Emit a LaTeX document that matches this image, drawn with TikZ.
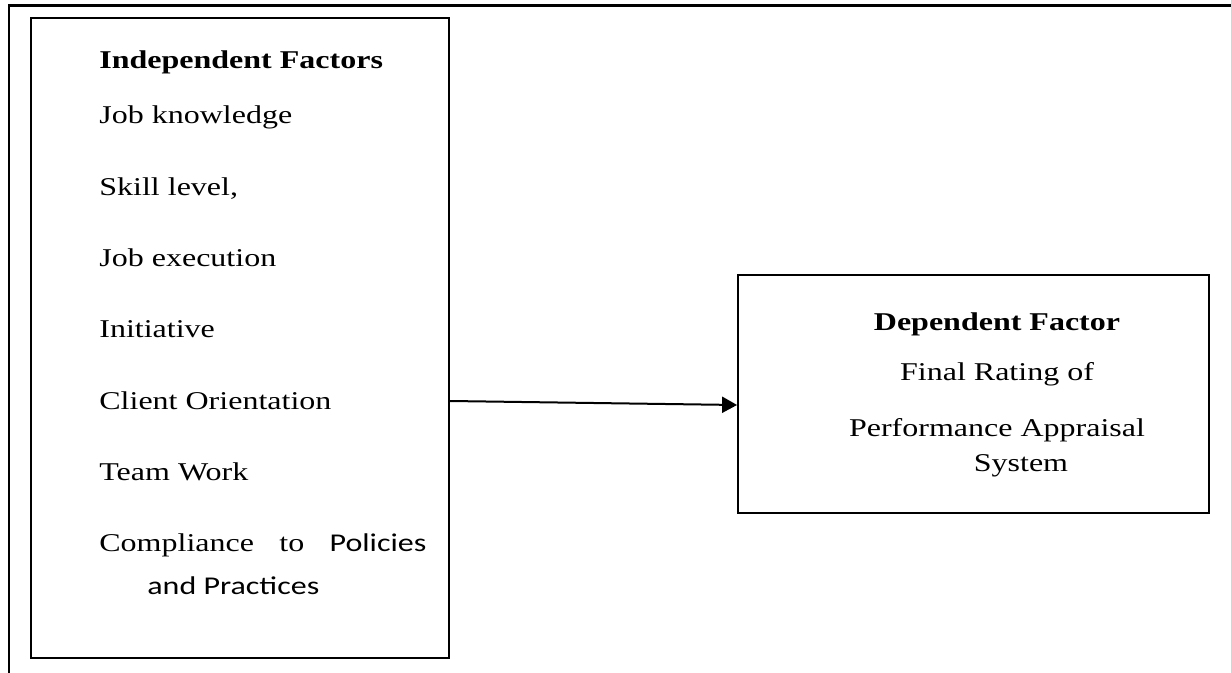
\documentclass[tikz,border=0pt]{standalone}
\usepackage{fontspec}
\setmainfont{Liberation Serif}[FakeStretch=1.25]
\newfontfamily\calfont{Carlito}[FakeStretch=1.25]
\usetikzlibrary{arrows.meta,positioning}

\begin{document}
\begin{tikzpicture}[x=0.5pt,y=-0.5pt,
    font=\fontsize{12.8pt}{15pt}\selectfont,
    factorbox/.style={draw,line width=0.9pt,inner sep=0pt},
    item/.style={inner sep=0pt,text height=9pt,text depth=3pt}]
  \useasboundingbox (0,0) rectangle (1231,673);
  % frame
  \draw[line width=1.5pt] (1231,6) -- (8,6);
  \draw[line width=1pt] (9,6) -- (9,673);
  % boxes
  \node[factorbox,minimum width=209pt,minimum height=320pt] (indep) at (240,338) {};
  \node[factorbox,minimum width=235.5pt,minimum height=119pt] (dep) at (973.5,394) {};
  % independent factors
  \node[item,anchor=base west] (ihead) at (99,69) {\textbf{Independent Factors}};
  \node[item,below right=15pt and 0pt of ihead.south west] (jk) {Job knowledge};
  \node[item,below right=23.25pt and 0pt of jk.south west] (sl) {Skill level,};
  \node[item,below right=23.25pt and 0pt of sl.south west] (je) {Job execution};
  \node[item,below right=23.25pt and 0pt of je.south west] (ini) {Initiative};
  \node[item,below right=23.25pt and 0pt of ini.south west] (co) {Client Orientation};
  \node[item,below right=23.25pt and 0pt of co.south west] (tw) {Team Work};
  \node[item,below right=23.25pt and 0pt of tw.south west] (comp)
    {\makebox[163.5pt]{Compliance\hfill to\hfill{\calfont Policies}}};
  \node[item,below right=9pt and 24pt of comp.south west] (prac)
    {\calfont and Practices};
  % dependent factor
  \node[item,anchor=base] (dhead) at (997,331) {\textbf{Dependent Factor}};
  \node[item,anchor=base] (fr) at (997,381) {Final Rating of};
  \node[item,anchor=base] (pa) at (997,437) {Performance Appraisal};
  \node[item,anchor=base] (sys) at (1021,472) {System};
  \draw[-{Triangle[length=7.5pt,width=8pt]},line width=1pt]
    ([yshift=-31.5pt]indep.east) -- ([yshift=-5.5pt]dep.west);
\end{tikzpicture}
\end{document}
